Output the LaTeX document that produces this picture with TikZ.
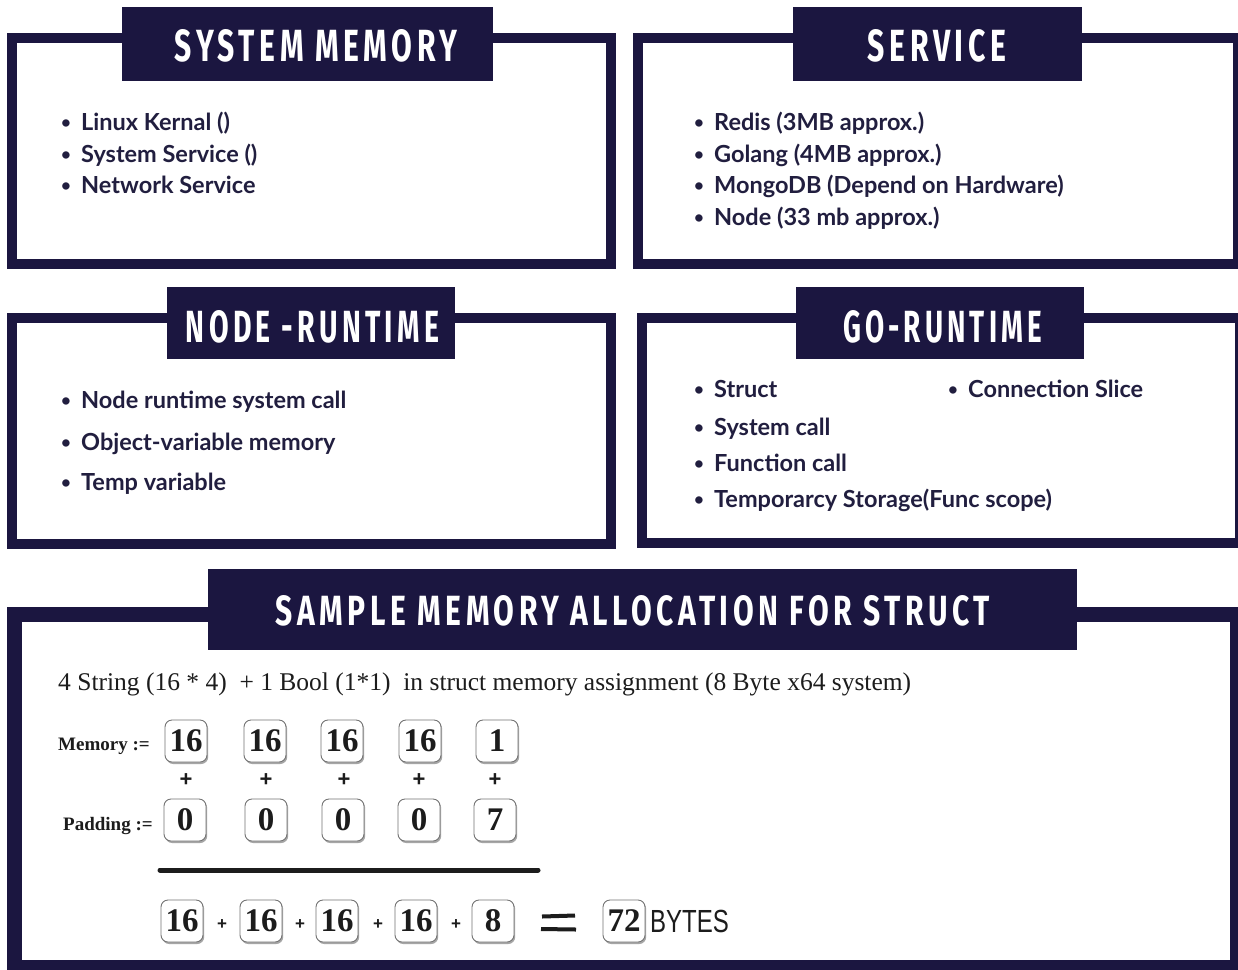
\documentclass[tikz,border=0pt]{standalone}
\usepackage{fontspec}
\usetikzlibrary{shadows}
\setmainfont{Liberation Serif}
\newfontfamily\listfont{Lato}
\newfontfamily\headfont{Fira Sans}[LetterSpace=15]
\newfontfamily\bytesfont{Liberation Sans}
\definecolor{navy}{HTML}{1B1640}
\definecolor{ink}{HTML}{211E3F}
\definecolor{numink}{HTML}{1C1C1C}

% small bullet followed by the item text
\newcommand\memitem[1]{\makebox[21pt][l]{\hspace{1pt}\raisebox{1.5pt}{\scalebox{0.72}{\textbullet}}}#1}
% white heading squeezed into a given width and cap height
\newcommand\headtext[3]{\resizebox{#1pt}{#2pt}{\headfont\bfseries #3}}

\tikzset{
  frame/.style={draw=navy, line width=10pt},
  bigframe/.style={draw=navy, line width=15pt},
  titlebox/.style={fill=navy, inner sep=0pt},
  titletext/.style={inner sep=0pt, text=white},
  listtext/.style={anchor=base west, inner sep=0pt, text=ink,
    font=\listfont\bfseries\fontsize{23.5}{27}\selectfont},
  numbox/.style={draw=black!55, line width=0.9pt, rounded corners=7pt,
    minimum width=42pt, minimum height=42pt, inner sep=0pt, fill=white,
    text=numink, font=\bfseries\fontsize{33}{36}\selectfont,
    drop shadow={shadow xshift=1.2pt, shadow yshift=-2pt, fill=black!35, opacity=1}},
  plus/.style={inner sep=0pt, text=numink, font=\bytesfont\bfseries\fontsize{22}{24}\selectfont},
  smallplus/.style={inner sep=0pt, text=numink, font=\bytesfont\bfseries\fontsize{17}{18}\selectfont},
  rowlabel/.style={anchor=base west, inner sep=0pt, text=numink,
    font=\bfseries\fontsize{19}{22}\selectfont},
}

\begin{document}
\begin{tikzpicture}[x=1pt, y=-1pt]
\useasboundingbox (0,0) rectangle (1238,969);
\fill[white] (0,0) rectangle (1238,969);

% ---------- frames ----------
\draw[frame] (12,38) rectangle (611,264);
\draw[frame] (638,38) rectangle (1238,264);
\draw[frame] (12,318) rectangle (611,544);
\draw[frame] (642,318) rectangle (1240,543);
\draw[bigframe] (14,614.5) rectangle (1237.5,967.5);

% ---------- headings ----------
\node[titlebox, minimum width=371pt, minimum height=74pt] (smhead) at (307.5,44) {};
\node[titletext] (smtitle) at (316,46) {\headtext{282}{32}{SYSTEM MEMORY}};
\node[titlebox, minimum width=289pt, minimum height=74pt] (svhead) at (937.5,44) {};
\node[titletext] (svtitle) at (937,46) {\headtext{138}{32}{SERVICE}};
\node[titlebox, minimum width=288pt, minimum height=72pt] (nrhead) at (311,323) {};
\node[titletext] (nrtitle) at (312.5,327) {\headtext{253}{32}{NODE -RUNTIME}};
\node[titlebox, minimum width=288pt, minimum height=72pt] (gohead) at (940,323) {};
\node[titletext] (gotitle) at (942.5,327) {\headtext{199}{32}{GO-RUNTIME}};
\node[titlebox, minimum width=869pt, minimum height=81pt] (sahead) at (642.5,609.5) {};
\node[titletext] (satitle) at (633,611) {\headtext{714}{30}{SAMPLE MEMORY ALLOCATION FOR STRUCT}};

% ---------- system memory ----------
\node[listtext] (sm1) at (60,130) {\memitem{Linux Kernal ()}};
\node[listtext] (sm2) at (60,162) {\memitem{System Service ()}};
\node[listtext] (sm3) at (60,193) {\memitem{Network Service}};

% ---------- service ----------
\node[listtext] (sv1) at (693,130) {\memitem{Redis (3MB approx.)}};
\node[listtext] (sv2) at (693,162) {\memitem{Golang (4MB approx.)}};
\node[listtext] (sv3) at (693,193) {\memitem{MongoDB (Depend on Hardware)}};
\node[listtext] (sv4) at (693,225) {\memitem{Node (33 mb approx.)}};

% ---------- node runtime ----------
\node[listtext] (nr1) at (60,408) {\memitem{Node runtime system call}};
\node[listtext] (nr2) at (60,450) {\memitem{Object-variable memory}};
\node[listtext] (nr3) at (60,490) {\memitem{Temp variable}};

% ---------- go runtime ----------
\node[listtext] (go1) at (693,397) {\memitem{Struct}};
\node[listtext] (go5) at (947,397) {\memitem{Connection Slice}};
\node[listtext] (go2) at (693,435) {\memitem{System call}};
\node[listtext] (go3) at (693,471) {\memitem{Function call}};
\node[listtext] (go4) at (693,507) {\memitem{Temporarcy Storage(Func scope)}};

% ---------- struct allocation ----------
\node[anchor=base west, inner sep=0pt, text=numink, font=\fontsize{25.5}{28}\selectfont] (formula) at (58,690)
  {4 String (16 * 4)\ \ + 1 Bool (1*1)\ \ in struct memory assignment (8 Byte x64 system)};

\node[rowlabel] (memlabel) at (58,750) {Memory :=};
\node[rowlabel] (padlabel) at (63,830) {Padding :=};

\node[numbox] (m1) at (186,741) {16};
\node[numbox] (m2) at (265,741) {16};
\node[numbox] (m3) at (342,741) {16};
\node[numbox] (m4) at (420,741) {16};
\node[numbox] (m5) at (497,741) {1};

\node[plus] (p1) at (186,780) {+};
\node[plus] (p2) at (266,780) {+};
\node[plus] (p3) at (344,780) {+};
\node[plus] (p4) at (419,780) {+};
\node[plus] (p5) at (495,780) {+};

\node[numbox] (d1) at (185,820) {0};
\node[numbox] (d2) at (266,820) {0};
\node[numbox] (d3) at (343,820) {0};
\node[numbox] (d4) at (419,820) {0};
\node[numbox] (d5) at (495,820) {7};

\coordinate (ruleL) at (160,870);
\coordinate (ruleR) at (538,870);
\draw[numink, line width=5pt, line cap=round] (ruleL) -- (ruleR);

\node[numbox] (s1) at (182,921) {16};
\node[smallplus] (q1) at (222,924) {+};
\node[numbox] (s2) at (261,921) {16};
\node[smallplus] (q2) at (300,924) {+};
\node[numbox] (s3) at (337,921) {16};
\node[smallplus] (q3) at (378,924) {+};
\node[numbox] (s4) at (416,921) {16};
\node[smallplus] (q4) at (456,924) {+};
\node[numbox] (s5) at (493,921) {8};

% hand-drawn equals sign
\draw[numink, line width=4pt] (542,916.5) -- (575,915.5);
\draw[numink, line width=4pt] (541,929) -- (576,929.5);

\node[numbox] (total) at (624,921) {72};
\node[anchor=west, inner sep=0pt, text=numink] (bytes) at (650,921)
  {\scalebox{0.75}[1]{\bytesfont\fontsize{32}{34}\selectfont BYTES}};
\end{tikzpicture}
\end{document}
